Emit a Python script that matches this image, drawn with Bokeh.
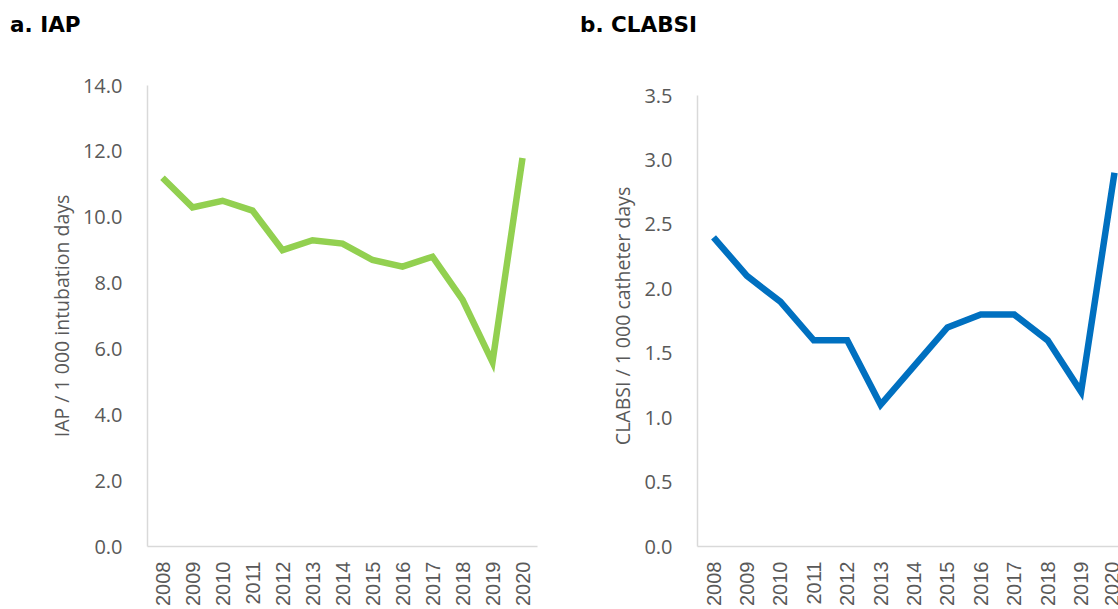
from math import pi
from bokeh.plotting import figure
from bokeh.models import ColumnDataSource, Range1d, FixedTicker, PrintfTickFormatter, Div
from bokeh.layouts import row, column
from bokeh.embed import file_html
from bokeh.resources import INLINE

years = [2008, 2009, 2010, 2011, 2012, 2013, 2014, 2015, 2016, 2017, 2018, 2019, 2020]
iap = [11.2, 10.3, 10.5, 10.2, 9.0, 9.3, 9.2, 8.7, 8.5, 8.8, 7.5, 5.6, 11.8]
clabsi = [2.4, 2.1, 1.9, 1.6, 1.6, 1.1, 1.4, 1.7, 1.8, 1.8, 1.6, 1.2, 2.9]
iap_ticks = [0, 2, 4, 6, 8, 10, 12, 14]
clabsi_ticks = [0, 0.5, 1.0, 1.5, 2.0, 2.5, 3.0, 3.5]

TICK_COLOR = "#595959"
AXIS_COLOR = "#d9d9d9"
TITLE_H = 50
HEIGHT = 558


def make_title(text, width):
    return Div(text=text, width=width, height=TITLE_H, margin=(0, 0, 0, 0),
               styles={"font-family": "DejaVu Sans", "font-weight": "bold",
                       "font-size": "21.5px", "line-height": "25px", "color": "#000000",
                       "padding-top": "12px", "padding-left": "10px",
                       "box-sizing": "border-box", "margin": "0"})


def make_panel(ylabel, values, color, yticks, y_end, width,
               border_left, border_right, x_start, x_end):
    src = ColumnDataSource(dict(year=years, value=values))
    p = figure(width=width, height=HEIGHT, output_backend="svg", toolbar_location=None,
               x_range=Range1d(x_start, x_end), y_range=Range1d(yticks[0], y_end),
               min_border_left=border_left, min_border_right=border_right,
               min_border_top=85 - TITLE_H, min_border_bottom=0, margin=(0, 0, 0, 0))
    p.line("year", "value", source=src, line_color=color, line_width=6.5,
           line_join="miter", line_cap="butt")
    p.outline_line_color = None
    p.xgrid.visible = False
    p.ygrid.visible = False
    p.background_fill_color = "white"
    p.border_fill_color = "white"

    xa = p.xaxis[0]
    xa.ticker = FixedTicker(ticks=years)
    xa.major_label_orientation = pi / 2
    xa.major_label_text_font = "Liberation Sans"
    xa.major_label_text_font_size = "20px"
    xa.major_label_text_color = TICK_COLOR
    xa.major_label_standoff = 9
    xa.major_tick_line_color = None
    xa.minor_tick_line_color = None
    xa.axis_line_color = AXIS_COLOR
    xa.axis_line_width = 1.5

    ya = p.yaxis[0]
    ya.ticker = FixedTicker(ticks=yticks)
    ya.bounds = (yticks[0], yticks[-1])
    ya.formatter = PrintfTickFormatter(format="%.1f")
    ya.major_label_text_font = "Open Sans"
    ya.major_label_text_font_size = "20px"
    ya.major_label_text_color = TICK_COLOR
    ya.major_label_standoff = 19
    ya.major_tick_line_color = None
    ya.minor_tick_line_color = None
    ya.axis_line_color = AXIS_COLOR
    ya.axis_line_width = 1.5
    ya.axis_label = ylabel
    ya.axis_label_text_font = "Open Sans"
    ya.axis_label_text_font_size = "19.5px"
    ya.axis_label_text_font_style = "normal"
    ya.axis_label_text_color = TICK_COLOR
    ya.axis_label_standoff = 5
    return p


p1 = make_panel("IAP / 1 000 intubation days", iap, "#92d050", iap_ticks, 14.0,
                width=570, border_left=147, border_right=33,
                x_start=2007.5, x_end=2020.5)
p2 = make_panel("CLABSI / 1 000 catheter days", clabsi, "#0070c0", clabsi_ticks, 3.578,
                width=548, border_left=127, border_right=0,
                x_start=2007.52, x_end=2020.12)

t1 = make_title("a. IAP", 570)
t2 = make_title("b. CLABSI", 548)

layout = column(row(t1, t2, spacing=0), row(p1, p2, spacing=0), spacing=0)
open("out.html", "w").write(file_html(layout, INLINE))
